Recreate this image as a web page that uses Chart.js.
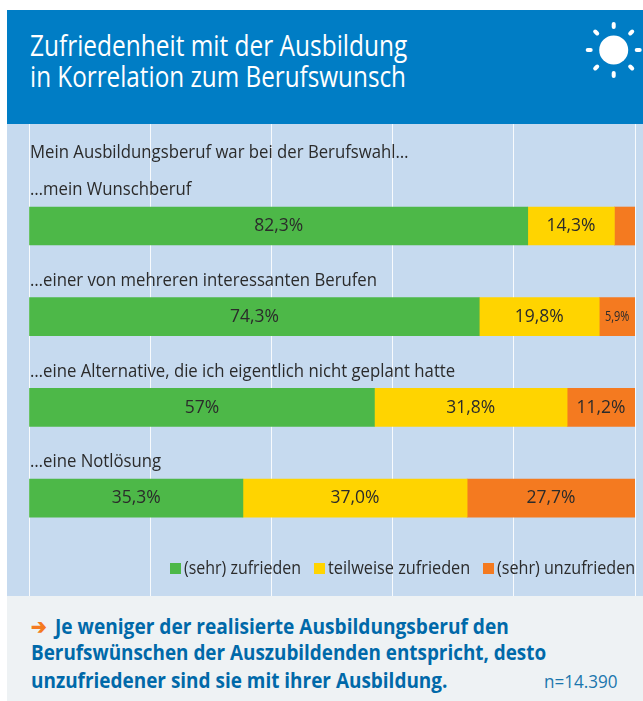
<!DOCTYPE html>
<html lang="de">
<head>
<meta charset="utf-8">
<title>Zufriedenheit mit der Ausbildung</title>
<script src="https://cdn.jsdelivr.net/npm/chart.js@4"></script>
<style>
html, body { margin: 0; padding: 0; background: #fff; }
body { width: 643px; height: 701px; position: relative; overflow: hidden; font-family: "Open Sans", sans-serif; }
.box { position: absolute; left: 7px; width: 636px; }
#kopf { top: 10px; height: 114px; background: #007dc5; }
#plot { top: 124px; height: 472px; background: #c6daef; }
#fuss { top: 596px; height: 105px; background: #eef2f4; }
.txt { position: absolute; white-space: nowrap; transform-origin: 0 0; line-height: 30px; }
.titel { font-size: 29.5px; color: #fff; line-height: 40px; }
.fazit { font-size: 21px; font-weight: 700; color: #0069a9; }
#legende { position: absolute; left: 0; top: 0; }
.feld { position: absolute; top: 563px; width: 11px; height: 11px; }
.leg { top: 552px; font-size: 18px; color: #2b2b2b; }
</style>
</head>
<body>
<div class="box" id="kopf"></div>
<div class="box" id="plot"><canvas id="grafik" width="636" height="472"></canvas></div>
<div class="box" id="fuss"></div>

<div class="txt titel" style="left:30px;top:25px" data-w="377">Zufriedenheit mit der Ausbildung</div>
<div class="txt titel" style="left:30px;top:56px" data-w="376">in Korrelation zum Berufswunsch</div>
<svg id="sonne" style="position:absolute;left:580px;top:16px" width="63" height="68" viewBox="-33.7 -34 63 68">
  <circle r="14.5" fill="#fff"/>
  <g stroke="#fff" stroke-width="4" stroke-linecap="round">
    <line y1="-23" y2="-26"/><line y1="23" y2="26"/>
    <line x1="-23" x2="-26"/><line x1="23" x2="26"/>
    <line x1="-16.5" y1="-16.5" x2="-18.5" y2="-18.5"/><line x1="16.5" y1="-16.5" x2="18.5" y2="-18.5"/>
    <line x1="-16.5" y1="16.5" x2="-18.5" y2="18.5"/><line x1="16.5" y1="16.5" x2="18.5" y2="18.5"/>
  </g>
</svg>

<div id="legende"></div>

<div class="txt fazit" style="left:31px;top:611px;color:#f47a20" data-w="16">➔</div>
<div class="txt fazit" style="left:55px;top:611px" data-w="454">Je weniger der realisierte Ausbildungsberuf den</div>
<div class="txt fazit" style="left:31px;top:637px" data-w="515">Berufswünschen der Auszubildenden entspricht, desto</div>
<div class="txt fazit" style="left:31px;top:665px" data-w="416">unzufriedener sind sie mit ihrer Ausbildung.</div>
<div class="txt" style="left:544px;top:666px;font-size:18px;color:#1b76ad" data-w="74">n=14.390</div>

<script>
const FRAGE = 'Mein Ausbildungsberuf war bei der Berufswahl…';
const kategorien = ['…mein Wunschberuf', '…einer von mehreren interessanten Berufen', '…eine Alternative, die ich eigentlich nicht geplant hatte', '…eine Notlösung'];

const serien = ['(sehr) zufrieden', 'teilweise zufrieden', '(sehr) unzufrieden'];
const farben = ['#4db848', '#ffd400', '#f47a20'];

const zufrieden = [82.3, 74.3, 57, 35.3];
const teilweise = [14.3, 19.8, 31.8, 37.0];
const unzufrieden = [3.4, 5.9, 11.2, 27.7];

const labelsZufrieden = ['82,3%', '74,3%', '57%', '35,3%'];
const labelsTeilweise = ['14,3%', '19,8%', '31,8%', '37,0%'];
const labelsUnzufrieden = ['', '5,9%', '11,2%', '27,7%'];

const werte = [zufrieden, teilweise, unzufrieden];
const texte = [labelsZufrieden, labelsTeilweise, labelsUnzufrieden];

const SCHRIFT = '"Open Sans", sans-serif';
const TEXTFARBE = '#2b2b2b';

// schmaler Text, die Originalschrift ist condensed
function schmal(ctx, text, x, y, faktor) {
    ctx.save();
    ctx.translate(x, y);
    ctx.scale(faktor, 1);
    ctx.fillText(text, 0, 0);
    ctx.restore();
}

// Beschriftungen direkt auf den Canvas zeichnen
const beschriftung = {
    id: 'beschriftung',
    afterDatasetsDraw(chart) {
        const ctx = chart.ctx;
        const y = chart.scales.y;
        const links = chart.chartArea.left;
        ctx.save();
        ctx.fillStyle = TEXTFARBE;
        ctx.textBaseline = 'middle';

        ctx.textAlign = 'left';
        ctx.font = '18px ' + SCHRIFT;
        schmal(ctx, FRAGE, links + 1, 29, 0.93);
        kategorien.forEach((name, i) => {
            schmal(ctx, name, links + 1, y.getPixelForValue(i) - 36, 0.93);
        });

        ctx.textAlign = 'center';
        chart.data.datasets.forEach((ds, d) => {
            chart.getDatasetMeta(d).data.forEach((balken, i) => {
                const p = balken.getCenterPoint();
                const text = texte[d][i];
                const klein = text === '5,9%';
                ctx.font = (klein ? '14px ' : '19px ') + SCHRIFT;
                schmal(ctx, text, p.x, p.y, klein ? 0.78 : 0.92);
            });
        });
        ctx.restore();
    }
};

new Chart(document.getElementById('grafik'), {
    type: 'bar',
    data: {
        datasets: serien.map((name, d) => ({
            label: name,
            data: werte[d].map((v, i) => ({ x: v, y: i })),
            backgroundColor: farben[d],
            borderWidth: 0,
            barThickness: 38
        }))
    },
    options: {
        indexAxis: 'y',
        responsive: false,
        animation: false,
        layout: { padding: { left: 22, right: 8, top: 0, bottom: 0 } },
        plugins: { legend: { display: false }, tooltip: { enabled: false } },
        scales: {
            x: {
                stacked: true,
                min: 0,
                max: 100,
                ticks: { display: false, stepSize: 20 },
                border: { display: false },
                grid: { color: 'rgba(255,255,255,0.85)', lineWidth: 1, drawTicks: false }
            },
            y: {
                type: 'linear',
                stacked: true,
                reverse: true,
                display: false,
                offset: false,
                min: -1.125,
                max: 4.08
            }
        }
    },
    plugins: [beschriftung]
});

// Legende als HTML, Position wie im Original
const legendeX = [170, 314, 483];
const legendeW = [117, 142, 138];
const legende = document.getElementById('legende');
serien.forEach((name, d) => {
    const feld = document.createElement('div');
    feld.className = 'feld';
    feld.style.left = legendeX[d] + 'px';
    feld.style.background = farben[d];
    legende.appendChild(feld);
    const txt = document.createElement('div');
    txt.className = 'txt leg';
    txt.style.left = (legendeX[d] + 14) + 'px';
    txt.dataset.w = legendeW[d];
    txt.textContent = name;
    legende.appendChild(txt);
});

// HTML-Texte auf die Breite im Original stauchen
document.querySelectorAll('[data-w]').forEach(el => {
    el.style.transform = `scaleX(${el.dataset.w / el.offsetWidth})`;
});
</script>
</body>
</html>
